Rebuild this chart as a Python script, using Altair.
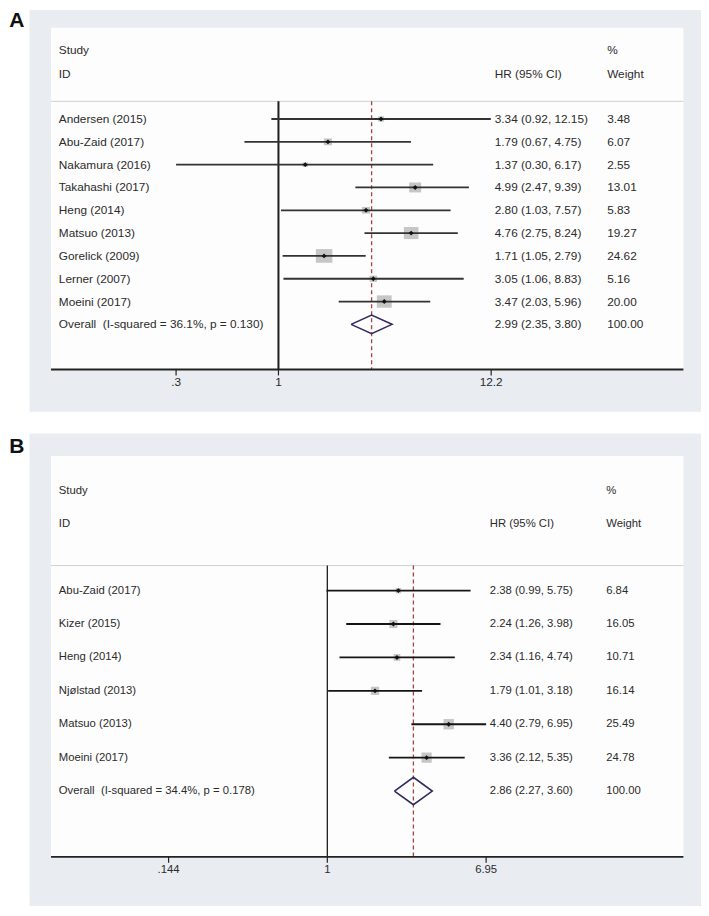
import altair as alt
import pandas as pd
import numpy as np

# ---------------- data ----------------
a_study = ["Andersen (2015)", "Abu-Zaid (2017)", "Nakamura (2016)", "Takahashi (2017)",
           "Heng (2014)", "Matsuo (2013)", "Gorelick (2009)", "Lerner (2007)", "Moeini (2017)"]
a_hr = [3.34, 1.79, 1.37, 4.99, 2.80, 4.76, 1.71, 3.05, 3.47]
a_lo = [0.92, 0.67, 0.30, 2.47, 1.03, 2.75, 1.05, 1.06, 2.03]
a_hi = [12.15, 4.75, 6.17, 9.39, 7.57, 8.24, 2.79, 8.83, 5.96]
a_weight = [3.48, 6.07, 2.55, 13.01, 5.83, 19.27, 24.62, 5.16, 20.00]
a_overall_label = "Overall\u00a0 (I-squared = 36.1%, p = 0.130)"
a_overall = [2.99, 2.35, 3.80]
a_ticks = [0.3, 1, 12.2]
a_tick_labels = [".3", "1", "12.2"]

b_study = ["Abu-Zaid (2017)", "Kizer (2015)", "Heng (2014)", "Njølstad (2013)",
           "Matsuo (2013)", "Moeini (2017)"]
b_hr = [2.38, 2.24, 2.34, 1.79, 4.40, 3.36]
b_lo = [0.99, 1.26, 1.16, 1.01, 2.79, 2.12]
b_hi = [5.75, 3.98, 4.74, 3.18, 6.95, 5.35]
b_weight = [6.84, 16.05, 10.71, 16.14, 25.49, 24.78]
b_overall_label = "Overall\u00a0 (I-squared = 34.4%, p = 0.178)"
b_overall = [2.86, 2.27, 3.60]
b_ticks = [0.144, 1, 6.95]
b_tick_labels = [".144", "1", "6.95"]

# ---------------- layout ----------------
W, H = 693, 899
SX = W / 709.0
SY = 898.0 / 914.0


def px(r):
    return round(r * SX, 2)


def py(r):
    return round(r * SY, 2)


FONT = "Liberation Sans"
TXT = "#2b2b2b"
PANEL_BG = "#e9edf1"
PLOT_BG = "#fdfdfd"
SEP = "#cdd1d5"
RED = "#a8433b"
NAVY = "#2f2b5f"
BOXC = "#c6c6c6"


def panel(letter, study, hr, lo, hi, weight, ov_label, ov, ticks, tick_labels, L):
    n = len(study)
    FS = L["fs"]
    k = L["k"] * SX
    one = px(L["one_x"])
    xdom = [float(np.exp((0 - one) / k)), float(np.exp((W - one) / k))]
    xs = alt.Scale(type="log", domain=xdom, range=[0, W], nice=False)
    y0 = py(L["row0"])
    dy = L["dy"] * SY
    ys = alt.Scale(type="linear", domain=[-y0 / dy, (H - y0) / dy], range=[0, H],
                   nice=False, zero=False)

    one_row = pd.DataFrame({"a": [0]})
    df = pd.DataFrame({
        "study": study, "row": list(range(n)), "hr": hr, "lo": lo, "hi": hi,
        "weight": weight,
    })
    df["sz"] = df["weight"] * (L["box"] * SX) ** 2
    labels = pd.DataFrame({
        "lab": list(study) + [ov_label],
        "row": list(range(n + 1)),
        "hrt": [f"{h:.2f} ({l:.2f}, {u:.2f})" for h, l, u in zip(hr, lo, hi)]
        + [f"{ov[0]:.2f} ({ov[1]:.2f}, {ov[2]:.2f})"],
        "wt": [f"{w:.2f}" for w in weight] + ["100.00"],
    })
    hh = 0.41
    dia = pd.DataFrame({
        "x": [ov[1], ov[0], ov[2], ov[0], ov[1]],
        "y": [n, n - hh, n, n + hh, n],
        "o": [0, 1, 2, 3, 4],
    })
    tk = pd.DataFrame({"v": ticks, "lab": tick_labels})
    vone = pd.DataFrame({"v": [1.0]})
    vov = pd.DataFrame({"v": [ov[0]]})
    heads = pd.DataFrame({
        "t": ["Study", "ID", "HR (95% CI)", "%", "Weight"],
        "xx": [L["col1"], L["col1"], L["col2"], L["col3"], L["col3"]],
        "yy": [L["h1"], L["h2"], L["h2"], L["h1"], L["h2"]],
    })

    X = lambda f: alt.X(f, scale=xs, axis=None)
    Y = lambda f: alt.Y(f, scale=ys, axis=None)

    layers = []
    layers.append(alt.Chart(one_row).mark_rect(color=PANEL_BG).encode(
        x=alt.value(px(22)), x2=alt.value(W),
        y=alt.value(py(L["gray_top"])), y2=alt.value(py(L["gray_bot"]))))
    layers.append(alt.Chart(one_row).mark_rect(color=PLOT_BG).encode(
        x=alt.value(px(44)), x2=alt.value(px(691)),
        y=alt.value(py(L["white_top"])), y2=alt.value(py(L["axis"]))))
    layers.append(alt.Chart(one_row).mark_rule(color=SEP, strokeWidth=1).encode(
        x=alt.value(px(44)), x2=alt.value(px(691)), y=alt.value(py(L["sep"]))))
    layers.append(alt.Chart(vone).mark_rule(color="#1e1e1e", strokeWidth=L["vw"]).encode(
        x=X("v:Q"), y=alt.value(py(L["sep"])), y2=alt.value(py(L["axis"]))))
    layers.append(alt.Chart(vov).mark_rule(color=RED, strokeWidth=1.3, strokeDash=[4, 3]).encode(
        x=X("v:Q"), y=alt.value(py(L["sep"])), y2=alt.value(py(L["axis"]))))
    layers.append(alt.Chart(one_row).mark_rule(color="#222222", strokeWidth=L["aw"]).encode(
        x=alt.value(px(44)), x2=alt.value(px(691)), y=alt.value(py(L["axis"]))))
    layers.append(alt.Chart(tk).mark_rule(color="#222222", strokeWidth=1.2).encode(
        x=X("v:Q"), y=alt.value(py(L["axis"])), y2=alt.value(py(L["axis"] + 6))))
    layers.append(alt.Chart(tk).mark_text(font=FONT, fontSize=FS, color=TXT, baseline="middle").encode(
        x=X("v:Q"), y=alt.value(py(L["axis"] + 13)), text="lab:N"))
    layers.append(alt.Chart(df).mark_point(shape=L["shape"], filled=True, color=BOXC, opacity=1).encode(
        x=X("hr:Q"), y=Y("row:Q"), size=alt.Size("sz:Q", scale=None)))
    layers.append(alt.Chart(df).mark_rule(color=L["cic"], strokeWidth=1.8).encode(
        x=X("lo:Q"), x2="hi:Q", y=Y("row:Q")))
    layers.append(alt.Chart(df).mark_point(shape="diamond", filled=True, color="#111111",
                                           size=24, opacity=1).encode(
        x=X("hr:Q"), y=Y("row:Q")))
    layers.append(alt.Chart(dia).mark_line(color=NAVY, strokeWidth=1.6).encode(
        x=X("x:Q"), y=Y("y:Q"), order=alt.Order("o:Q")))
    layers.append(alt.Chart(labels).mark_text(font=FONT, fontSize=FS, color=TXT, align="left",
                                              baseline="middle").encode(
        x=alt.value(px(L["col1"])), y=Y("row:Q"), text="lab:N"))
    layers.append(alt.Chart(labels).mark_text(font=FONT, fontSize=FS, color=TXT, align="left",
                                              baseline="middle").encode(
        x=alt.value(px(L["col2"])), y=Y("row:Q"), text="hrt:N"))
    layers.append(alt.Chart(labels).mark_text(font=FONT, fontSize=FS, color=TXT, align="left",
                                              baseline="middle").encode(
        x=alt.value(px(L["col3"])), y=Y("row:Q"), text="wt:N"))
    for _, r in heads.iterrows():
        layers.append(alt.Chart(one_row).mark_text(font=FONT, fontSize=FS, color=TXT, align="left",
                                                   baseline="middle", text=r["t"]).encode(
            x=alt.value(px(r["xx"])), y=alt.value(py(r["yy"]))))
    layers.append(alt.Chart(one_row).mark_text(
        font="'Liberation Sans Narrow', 'Liberation Sans'", fontSize=21, fontWeight="bold",
        color="#111111", align="center", baseline="middle", text=letter).encode(
        x=alt.value(px(L["let_x"])), y=alt.value(py(L["let_y"]))))
    return alt.layer(*layers)


LA = dict(k=87.0, one_x=276.7, row0=113.0, dy=(322.0 - 113.0) / 9, gray_top=2, gray_bot=411,
          white_top=20, axis=368, sep=95, h1=43, h2=67, col1=52, col2=498, col3=613,
          box=3.4, shape="M-1,-0.83L1,-0.83L1,0.83L-1,0.83Z", cic="#333333", vw=2.0, aw=2.0,
          let_x=9, let_y=13.5, fs=11.8)
LB = dict(k=83.8, one_x=326.7, row0=593.0, dy=34.0, gray_top=433, gray_bot=914,
          white_top=456, axis=864, sep=567.5, h1=491.5, h2=525, col1=52, col2=493, col3=612,
          box=2.1, shape="square", cic="#151515", vw=1.3, aw=1.6,
          let_x=9, let_y=446.5, fs=11.3)

pa = panel("A", a_study, a_hr, a_lo, a_hi, a_weight, a_overall_label, a_overall,
           a_ticks, a_tick_labels, LA)
pb = panel("B", b_study, b_hr, b_lo, b_hi, b_weight, b_overall_label, b_overall,
           b_ticks, b_tick_labels, LB)

chart = alt.layer(pa, pb).resolve_scale(x="independent", y="independent").properties(
    width=W, height=H, padding=0, autosize=alt.AutoSizeParams(type="none"),
    background="white",
).configure_view(stroke="transparent")

chart.save("out.html", embed_options={"renderer": "svg", "actions": False})
